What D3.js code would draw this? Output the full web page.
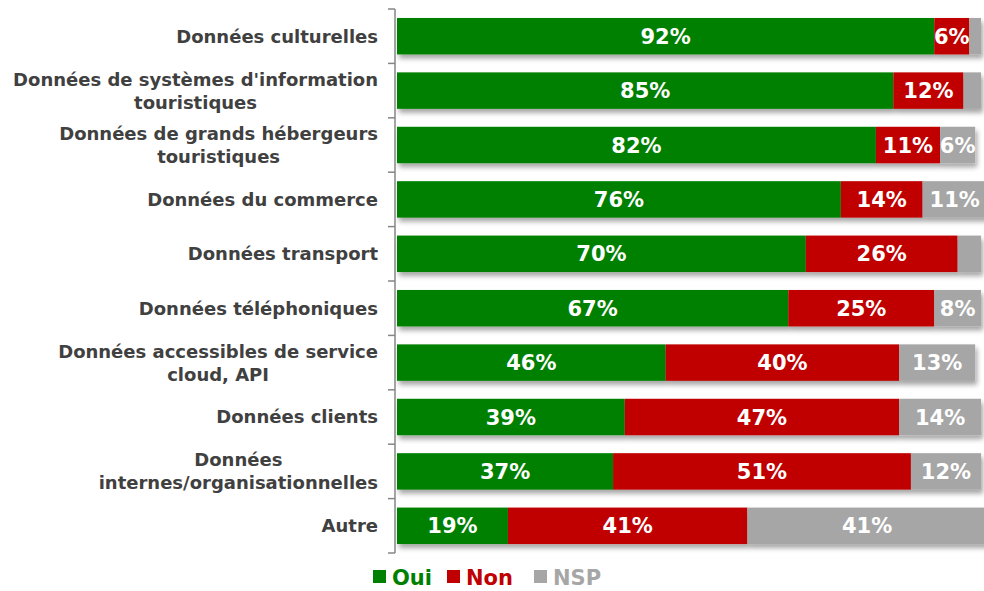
<!DOCTYPE html>
<html>
<head>
<meta charset="utf-8">
<script src="https://cdn.jsdelivr.net/npm/d3@7"></script>
<style>
  body { margin: 0; background: #fff; }
  svg { display: block; font-family: "DejaVu Sans", "Lato", sans-serif; }
</style>
</head>
<body>
<svg id="chart" width="984" height="591"></svg>
<script>
// categories and values (percent)
const categories = [
  "Données culturelles",
  "Données de systèmes d'information\ntouristiques",
  "Données de grands hébergeurs\ntouristiques",
  "Données du commerce",
  "Données transport",
  "Données téléphoniques",
  "Données accessibles de service\ncloud, API",
  "Données clients",
  "Données\ninternes/organisationnelles",
  "Autre"
];
const oui = [92, 85, 82, 76, 70, 67, 46, 39, 37, 19];
const non = [6, 12, 11, 14, 26, 25, 40, 47, 51, 41];
const nsp = [2, 3, 6, 11, 4, 8, 13, 14, 12, 41];

const seriesNames = ["Oui", "Non", "NSP"];
const colors = ["#008000", "#C00000", "#A6A6A6"];

const svg = d3.select("#chart");

// drop shadow for bars
const defs = svg.append("defs");
const f = defs.append("filter").attr("id", "shadow")
  .attr("x", "-5%").attr("y", "-30%").attr("width", "110%").attr("height", "180%");
f.append("feDropShadow").attr("dx", 2).attr("dy", 4).attr("stdDeviation", 2.5)
  .attr("flood-color", "#000").attr("flood-opacity", 0.35);

const rows = categories.map((c, i) => ({ cat: c, Oui: oui[i], Non: non[i], NSP: nsp[i] }));
const stacked = d3.stack().keys(seriesNames)(rows);

const x = d3.scaleLinear().domain([0, 100]).range([397, 981]);
const y = d3.scaleBand().domain(categories).range([9, 553]).paddingInner(0.33).paddingOuter(0.165);

// bars
const layer = svg.append("g").attr("filter", "url(#shadow)");
stacked.forEach((s, k) => {
  layer.selectAll(null)
    .data(s)
    .join("rect")
    .attr("x", d => x(d[0]))
    .attr("y", d => y(d.data.cat))
    .attr("width", d => x(d[1]) - x(d[0]))
    .attr("height", y.bandwidth())
    .attr("fill", colors[k]);
});

// value labels
stacked.forEach((s, k) => {
  svg.append("g").selectAll("text")
    .data(s.filter(d => d[1] - d[0] >= 5))
    .join("text")
    .attr("x", d => (x(d[0]) + x(d[1])) / 2)
    .attr("y", d => y(d.data.cat) + y.bandwidth() / 2)
    .attr("dy", "0.36em")
    .attr("text-anchor", "middle")
    .attr("fill", "#fff")
    .attr("font-size", 21)
    .attr("font-weight", "bold")
    .text(d => (d[1] - d[0]) + "%");
});

// axis line with ticks between categories
const axis = svg.append("g").attr("stroke", "#868686").attr("stroke-width", 1.5);
axis.append("line").attr("x1", 395).attr("x2", 395).attr("y1", 9).attr("y2", 553);
const step = y.step();
d3.range(categories.length + 1).forEach(i => {
  const ty = 9 + i * step;
  axis.append("line").attr("x1", 388).attr("x2", 395).attr("y1", ty).attr("y2", ty);
});

// category labels (lines centered on each other, block right aligned)
const labelRight = 378;
const lineH = 23;
categories.forEach(c => {
  const lines = c.split("\n");
  const g = svg.append("g");
  const t = g.append("text")
    .attr("font-size", 18)
    .attr("font-weight", "bold")
    .attr("fill", "#404040")
    .attr("text-anchor", "middle");
  const cy = y(c) + y.bandwidth() / 2;
  lines.forEach((l, i) => {
    t.append("tspan")
      .attr("y", cy + (i - (lines.length - 1) / 2) * lineH)
      .attr("dy", "0.36em")
      .text(l);
  });
  let maxW = 0;
  t.selectAll("tspan").each(function() { maxW = Math.max(maxW, this.getComputedTextLength()); });
  t.selectAll("tspan").attr("x", labelRight - maxW / 2);
});

// legend
const legendX = [373, 447, 534];
const leg = svg.append("g");
seriesNames.forEach((n, i) => {
  leg.append("rect").attr("x", legendX[i]).attr("y", 570).attr("width", 13).attr("height", 13).attr("fill", colors[i]);
  leg.append("text")
    .attr("x", legendX[i] + 19)
    .attr("y", 577)
    .attr("dy", "0.36em")
    .attr("font-size", 21)
    .attr("font-weight", "bold")
    .attr("fill", colors[i])
    .text(n);
});
</script>
</body>
</html>
